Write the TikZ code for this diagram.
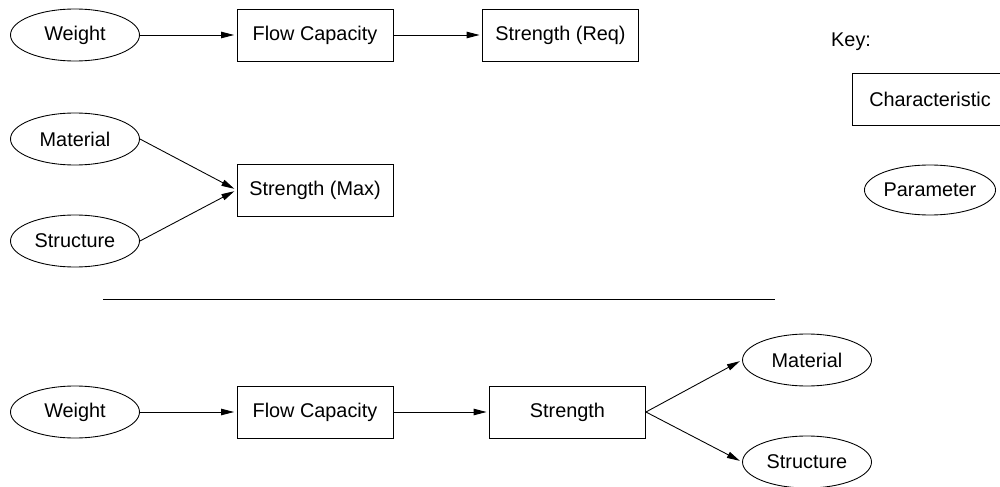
\documentclass[tikz,border=0pt]{standalone}
\usepackage{fontspec}
\setmainfont{Liberation Sans}
\usepackage{tikz}
\usetikzlibrary{positioning,arrows.meta,shapes.geometric}

\begin{document}
\begin{tikzpicture}[font=\fontsize{11.3}{13}\selectfont,
  par/.style={draw,ellipse,line width=0.5pt,inner sep=0pt,
              minimum width=2.58cm,minimum height=1.04cm},
  chr/.style={draw,rectangle,line width=0.5pt,inner sep=0pt,
              minimum width=3.12cm,minimum height=1.04cm},
  ar/.style={-{Triangle[length=2.6mm,width=1.3mm]},line width=0.5pt,
             shorten >=0.5mm}]
  \useasboundingbox (0,0) rectangle (20,9.72);

  % required strength
  \node[par] (wt1) at (1.5,9.02) {Weight};
  \node[chr] (fc1) at (6.3,9.02) {Flow Capacity};
  \node[chr] (req) at (11.21,9.02) {Strength (Req)};
  \draw[ar] (wt1) -- (fc1);
  \draw[ar] (fc1) -- (req);

  % maximum strength
  \node[par] (mat1) at (1.5,6.94) {Material};
  \node[par] (str1) at (1.5,4.9) {Structure};
  \node[chr] (max) at (6.3,5.92) {Strength (Max)};
  \draw[ar] (mat1.east) -- (max.west);
  \draw[ar] (str1.east) -- (max.west);

  \coordinate (ln1) at (2.06,3.74);
  \coordinate (ln2) at (15.5,3.74);
  \draw[line width=0.5pt] (ln1) -- (ln2);

  % combined chain
  \node[par] (wt2) at (1.5,1.48) {Weight};
  \node[chr] (fc2) at (6.3,1.48) {Flow Capacity};
  \node[chr] (stg) at (11.35,1.48) {Strength};
  \node[par] (mat2) at (16.14,2.52) {Material};
  \node[par] (str2) at (16.14,0.48) {Structure};
  \draw[ar] (wt2) -- (fc2);
  \draw[ar] (fc2) -- (stg);
  \draw[ar] (stg.east) -- (mat2.west);
  \draw[ar] (stg.east) -- (str2.west);

  % key
  \node[anchor=west] (key) at (16.5,8.88) {Key:};
  \node[chr] (kchr) at (18.6,7.73) {Characteristic};
  \node[par,minimum width=2.6cm,minimum height=1.0cm] (kpar) at (18.6,5.92) {Parameter};
\end{tikzpicture}
\end{document}
